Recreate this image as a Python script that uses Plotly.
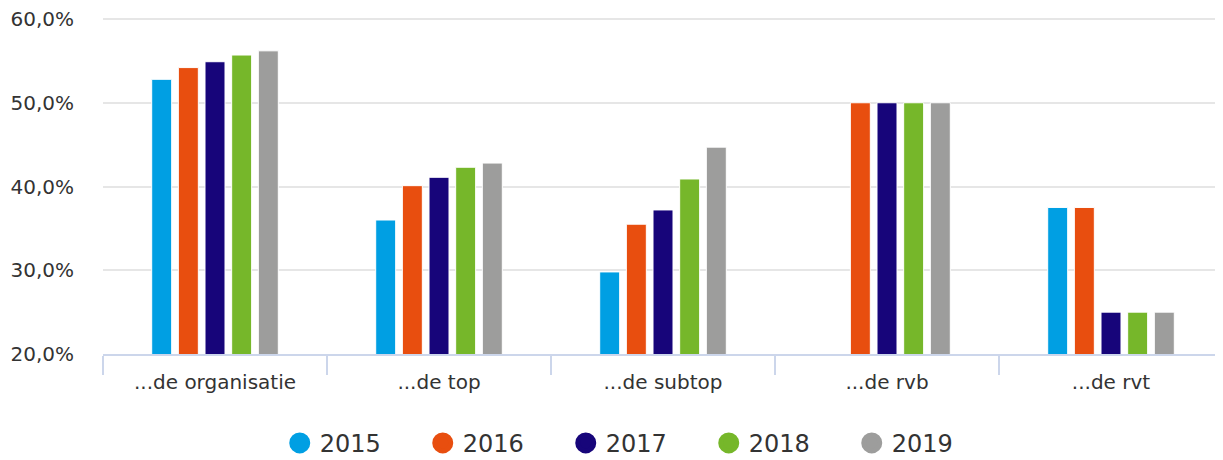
import plotly.graph_objects as go

categories = ["...de organisatie", "...de top", "...de subtop", "...de rvb", "...de rvt"]
years = ["2015", "2016", "2017", "2018", "2019"]
values_2015 = [52.8, 36.0, 29.8, None, 37.5]
values_2016 = [54.2, 40.1, 35.5, 50.0, 37.5]
values_2017 = [54.9, 41.1, 37.2, 50.0, 25.0]
values_2018 = [55.7, 42.3, 40.9, 50.0, 25.0]
values_2019 = [56.2, 42.8, 44.7, 50.0, 25.0]
colors = ["#009fe3", "#e84e0f", "#17057a", "#76b72a", "#9d9d9c"]
y_tick_values = [20, 30, 40, 50, 60]
y_tick_labels = ["20,0%", "30,0%", "40,0%", "50,0%", "60,0%"]

series = [values_2015, values_2016, values_2017, values_2018, values_2019]

fig = go.Figure()
for name, vals, col in zip(years, series, colors):
    fig.add_trace(go.Bar(
        x=categories, y=vals, name=name,
        marker=dict(color=col, line=dict(color="white", width=1)),
        showlegend=False,
    ))
for name, col in zip(years, colors):
    fig.add_trace(go.Scatter(
        x=[None], y=[None], mode="markers", name=name,
        marker=dict(color=col, size=22, symbol="circle", line=dict(color=col, width=5)),
        showlegend=True,
    ))

font_family = "Verdana, DejaVu Sans, sans-serif"
# the page body adds an 8px offset, so the figure is sized to fit the 1223x460 window
fig.update_layout(
    width=1215, height=452,
    margin=dict(l=95, r=0, t=9, b=106, autoexpand=False),
    paper_bgcolor="white", plot_bgcolor="white",
    barmode="group", bargap=0.405, bargroupgap=0.25,
    font=dict(family=font_family, color="#333333", size=20),
    showlegend=True,
    legend=dict(
        orientation="h", x=0.477, xanchor="center", y=-0.265, yanchor="middle",
        font=dict(size=24, color="#333333", family=font_family),
        itemsizing="trace", entrywidth=98, entrywidthmode="pixels",
    ),
)
fig.update_yaxes(
    range=[20, 60.24], tickvals=y_tick_values, ticktext=y_tick_labels,
    showgrid=True, gridcolor="#e6e6e6", gridwidth=2, zeroline=False,
    showline=False, ticks="", ticklabelstandoff=28, automargin=False,
    ticklabeloverflow="allow",
    tickfont=dict(size=20, color="#333333", family=font_family),
)
fig.update_xaxes(
    showline=True, linecolor="#ccd6eb", linewidth=2,
    ticks="outside", tickson="boundaries", ticklen=19, tickcolor="#ccd6eb", tickwidth=2,
    tickfont=dict(size=20, color="#333333", family=font_family),
    showgrid=False, automargin=False, ticklabelstandoff=9,
)

fig.write_html("out.html")
